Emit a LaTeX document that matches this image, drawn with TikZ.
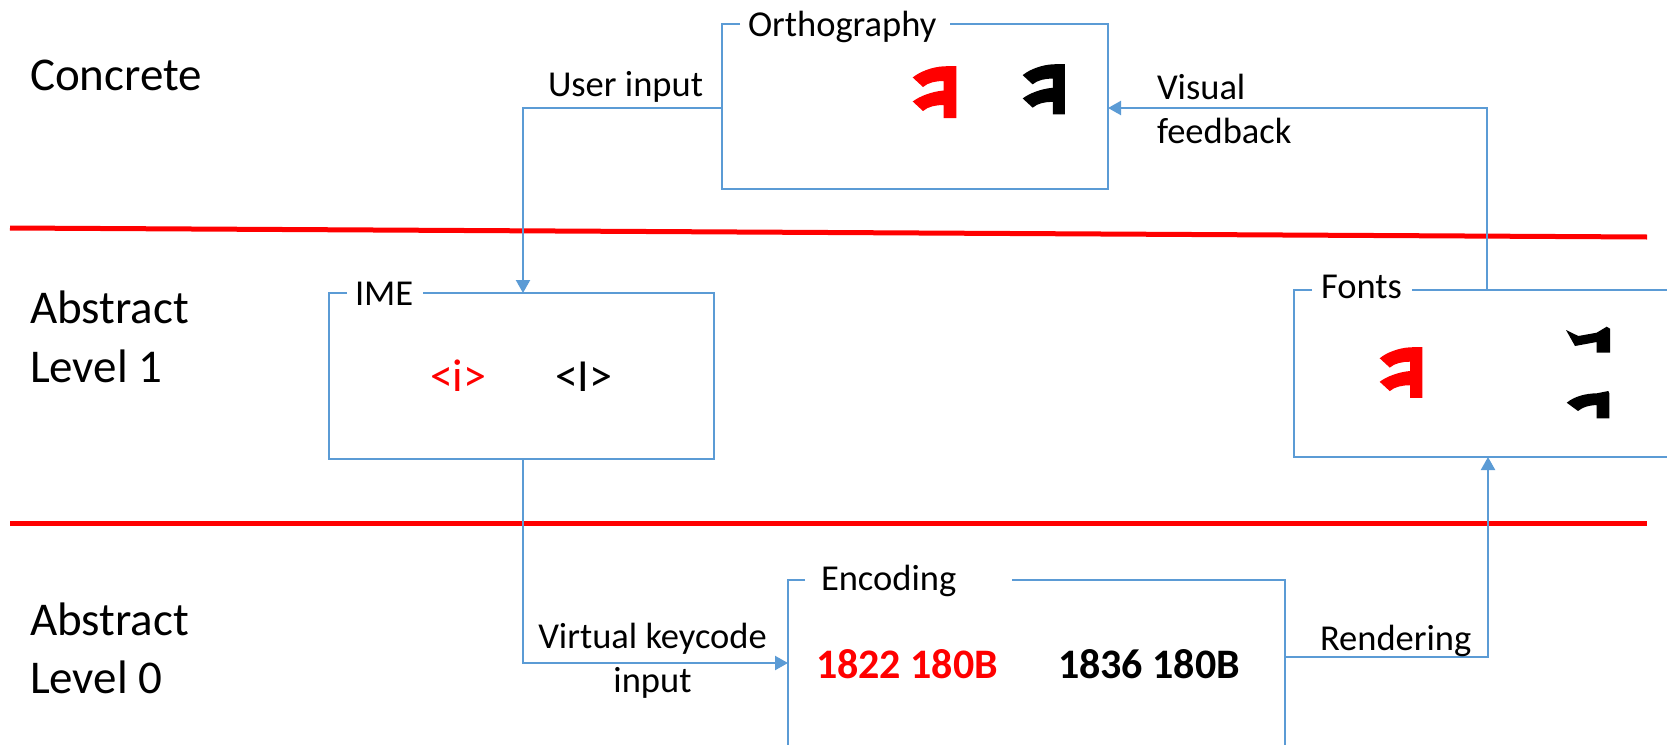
\documentclass[tikz,border=0pt]{standalone}
\usepackage{fontspec}
\setmainfont{Carlito}
\usetikzlibrary{arrows.meta}
\definecolor{boxblue}{HTML}{5B9BD5}
\definecolor{sepred}{HTML}{FF0000}
\tikzset{
  mongi/.pic={
    \fill (44.3,0) -- (44.3,52) -- (31.7,52) -- (31.7,39)
      .. controls (24,39) and (16,40.5) .. (11,45) -- (0.7,35.5)
      .. controls (8,30) and (20,25.5) .. (31.7,24.5) -- (31.7,15)
      .. controls (24,15) and (16,16.5) .. (11,21) -- (0.7,11.5)
      .. controls (8,5.5) and (20,1) .. (31.7,0.3) -- cycle;
  }
}
\begin{document}
\begin{tikzpicture}[x=1pt,y=-1pt,
  every node/.style={inner sep=0pt,outer sep=0pt},
  lbl/.style={font=\fontsize{36.5}{44}\selectfont},
  big/.style={font=\fontsize{47}{57}\selectfont},
  frame/.style={draw=none},
  bline/.style={draw=boxblue,line width=2.2pt},
  conn/.style={draw=boxblue,line width=2.2pt,-{Triangle[length=13pt,width=14pt]}},
  sep/.style={draw=sepred,line width=5pt},
  sym/.style={font=\fontsize{46}{55}\selectfont},
  code/.style={font=\fontsize{42}{50}\selectfont\bfseries}
]
\useasboundingbox (0,0) rectangle (1667,744);
\clip (0,0) rectangle (1667,744);

% separators
\draw[sep] (10,228) -- (1647,237);
\draw[sep] (10,523) -- (1647,523);

% level labels
\node[big,anchor=base west] (conc) at (30,90) {Concrete};
\node[big,anchor=base west] (abs1) at (30,323) {Abstract};
\node[big,anchor=base west] (lv1) at (30,382) {Level 1};
\node[big,anchor=base west] (abs0) at (30,635) {Abstract};
\node[big,anchor=base west] (lv0) at (30,693) {Level 0};

% frames
\node[frame,minimum width=386pt,minimum height=165pt] (ortho) at (915,106.5) {};
\node[frame,minimum width=385pt,minimum height=166pt] (ime) at (521.5,376) {};
\node[frame,minimum width=406pt,minimum height=167pt] (fonts) at (1497,373.5) {};
\node[frame,minimum width=497pt,minimum height=190pt] (enc) at (1036.5,675) {};

\draw[bline] ([xshift=18pt]ortho.north west) -- (ortho.north west) -- (ortho.south west)
  -- (ortho.south east) -- (ortho.north east) -- ([xshift=-158pt]ortho.north east);
\draw[bline] ([xshift=18pt]ime.north west) -- (ime.north west) -- (ime.south west)
  -- (ime.south east) -- (ime.north east) -- ([xshift=-291pt]ime.north east);
\draw[bline] ([xshift=18pt]fonts.north west) -- (fonts.north west) -- (fonts.south west)
  -- (fonts.south east) -- (fonts.north east) -- ([xshift=-288pt]fonts.north east);
\draw[bline] ([xshift=17pt]enc.north west) -- (enc.north west) -- (enc.south west)
  -- (enc.south east) -- (enc.north east) -- ([xshift=-273pt]enc.north east);

% titles
\node[lbl,anchor=base west] (torth) at (748,36) {Orthography};
\node[lbl,anchor=base west] (time) at (355,305) {IME};
\node[lbl,anchor=base west] (tfonts) at (1321,298) {Fonts};
\node[lbl,anchor=base west] (tenc) at (821,590) {Encoding};

% connectors
\draw[conn] ([yshift=-1.5pt]ortho.west) -| ([xshift=1.5pt]ime.north);
\draw[conn] ([xshift=-10pt]fonts.north) |- ([yshift=-1.5pt]ortho.east);
\draw[conn] ([xshift=1.5pt]ime.south) |- ([yshift=12pt]enc.west);
\draw[conn] ([yshift=18pt]enc.east) -| ([xshift=-9pt]fonts.south);

% connector labels
\node[lbl,anchor=base east] (luser) at (703,96) {User input};
\node[lbl,anchor=base west] (lvis1) at (1157,99) {Visual};
\node[lbl,anchor=base west] (lvis2) at (1157,143) {feedback};
\node[lbl,anchor=base] (lvk1) at (652.5,648) {Virtual keycode};
\node[lbl,anchor=base] (lvk2) at (652.5,692) {input};
\node[lbl,anchor=base west] (lrend) at (1320,650) {Rendering};

% contents
\pic[red] at (912,66) {mongi};
\pic[black,scale=0.97] at (1022,64) {mongi};
\pic[red,scale=0.98] at (1379,347) {mongi};
\fill[black] (1566,330) -- (1578.3,336) -- (1596.7,332.7) -- (1606.7,326.7) -- (1610,328.7)
  -- (1610,352.7) -- (1596.7,352.7) -- (1596.7,342) -- (1575,346) -- cycle;
\fill[black] (1566.7,402.7) .. controls (1575,396) and (1586,393.5) .. (1596.7,393.3)
  -- (1608.3,391) -- (1609.3,393.3) -- (1609.3,418.3) -- (1596.7,418.3) -- (1596.7,405)
  .. controls (1588,405.5) and (1583,407) .. (1578,411) -- cycle;

\node[sym,anchor=base west,text=red] (ired) at (430,391) {<i>};
\node[sym,anchor=base west] (iblk) at (555,391) {<I>};
\node[code,anchor=base west,text=red] (cred) at (816,678) {1822 180B};
\node[code,anchor=base west] (cblk) at (1058,678) {1836 180B};
\end{tikzpicture}
\end{document}
